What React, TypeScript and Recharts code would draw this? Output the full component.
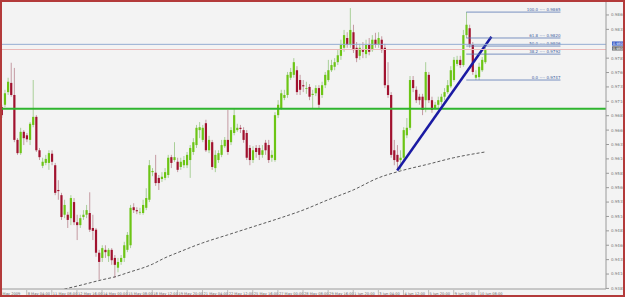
import React from 'react';
import { ComposedChart, Bar, Line, XAxis, YAxis, ReferenceLine } from 'recharts';

// H4 candles, 7 May - 10 Jun 2009
const opens = [
  0.9700, 0.9704, 0.9726, 0.9742, 0.9721, 0.9643, 0.9620, 0.9657, 0.9651, 0.9643,
  0.9669, 0.9683, 0.9625, 0.9598, 0.9603, 0.9603, 0.9619, 0.9599, 0.9556, 0.9547,
  0.9513, 0.9513, 0.9507, 0.9535, 0.9500, 0.9495, 0.9509, 0.9513, 0.9516, 0.9490,
  0.9487, 0.9447, 0.9438, 0.9452, 0.9441, 0.9452, 0.9438, 0.9421, 0.9431, 0.9438,
  0.9452, 0.9460, 0.9526, 0.9521, 0.9518, 0.9516, 0.9525, 0.9539, 0.9587, 0.9586,
  0.9577, 0.9575, 0.9577, 0.9582, 0.9613, 0.9608, 0.9605, 0.9596, 0.9599, 0.9599,
  0.9608, 0.9622, 0.9634, 0.9660, 0.9643, 0.9672, 0.9625, 0.9639, 0.9594, 0.9608,
  0.9617, 0.9632, 0.9643, 0.9639, 0.9655, 0.9660, 0.9664, 0.9660, 0.9655, 0.9629,
  0.9608, 0.9629, 0.9629, 0.9617, 0.9638, 0.9634, 0.9612, 0.9608, 0.9686, 0.9698,
  0.9716, 0.9721, 0.9751, 0.9756, 0.9764, 0.9747, 0.9738, 0.9733, 0.9735, 0.9721,
  0.9724, 0.9733, 0.9721, 0.9738, 0.9747, 0.9764, 0.9770, 0.9778, 0.9789, 0.9803,
  0.9820, 0.9808, 0.9830, 0.9803, 0.9789, 0.9799, 0.9792, 0.9808, 0.9799, 0.9817,
  0.9808, 0.9817, 0.9803, 0.9738, 0.9721, 0.9625, 0.9617, 0.9608, 0.9612, 0.9651,
  0.9664, 0.9747, 0.9730, 0.9718, 0.9718, 0.9712, 0.9756, 0.9712, 0.9698, 0.9704,
  0.9709, 0.9718, 0.9726, 0.9736, 0.9747, 0.9775, 0.9782, 0.9773, 0.9825, 0.9837,
  0.9808, 0.9751, 0.9752, 0.9764, 0.9778,
];
const highs = [
  0.9704, 0.9730, 0.9751, 0.9777, 0.9768, 0.9646, 0.9664, 0.9660, 0.9655, 0.9674,
  0.9747, 0.9686, 0.9629, 0.9612, 0.9617, 0.9625, 0.9625, 0.9603, 0.9573, 0.9551,
  0.9539, 0.9518, 0.9547, 0.9542, 0.9513, 0.9513, 0.9521, 0.9530, 0.9552, 0.9513,
  0.9490, 0.9452, 0.9460, 0.9460, 0.9455, 0.9455, 0.9443, 0.9438, 0.9443, 0.9466,
  0.9483, 0.9530, 0.9533, 0.9526, 0.9525, 0.9539, 0.9559, 0.9608, 0.9594, 0.9617,
  0.9582, 0.9587, 0.9594, 0.9617, 0.9617, 0.9639, 0.9612, 0.9612, 0.9615, 0.9622,
  0.9634, 0.9646, 0.9669, 0.9674, 0.9669, 0.9678, 0.9650, 0.9643, 0.9625, 0.9625,
  0.9643, 0.9648, 0.9695, 0.9665, 0.9698, 0.9671, 0.9669, 0.9665, 0.9660, 0.9634,
  0.9632, 0.9634, 0.9634, 0.9634, 0.9643, 0.9643, 0.9625, 0.9691, 0.9712, 0.9730,
  0.9730, 0.9761, 0.9768, 0.9785, 0.9771, 0.9756, 0.9747, 0.9744, 0.9740, 0.9730,
  0.9738, 0.9738, 0.9744, 0.9761, 0.9782, 0.9782, 0.9785, 0.9799, 0.9817, 0.9834,
  0.9830, 0.9872, 0.9843, 0.9813, 0.9810, 0.9813, 0.9817, 0.9820, 0.9825, 0.9829,
  0.9830, 0.9823, 0.9810, 0.9778, 0.9726, 0.9643, 0.9634, 0.9625, 0.9665, 0.9681,
  0.9754, 0.9754, 0.9736, 0.9723, 0.9723, 0.9778, 0.9761, 0.9718, 0.9709, 0.9718,
  0.9723, 0.9733, 0.9747, 0.9771, 0.9787, 0.9789, 0.9789, 0.9834, 0.9865, 0.9843,
  0.9813, 0.9764, 0.9777, 0.9787, 0.9804,
];
const lows = [
  0.9681, 0.9700, 0.9721, 0.9718, 0.9639, 0.9617, 0.9617, 0.9634, 0.9639, 0.9634,
  0.9665, 0.9622, 0.9608, 0.9594, 0.9599, 0.9591, 0.9599, 0.9547, 0.9539, 0.9504,
  0.9507, 0.9490, 0.9495, 0.9495, 0.9469, 0.9490, 0.9504, 0.9507, 0.9483, 0.9469,
  0.9440, 0.9400, 0.9431, 0.9438, 0.9431, 0.9426, 0.9403, 0.9413, 0.9426, 0.9431,
  0.9448, 0.9455, 0.9516, 0.9514, 0.9513, 0.9513, 0.9521, 0.9535, 0.9580, 0.9563,
  0.9556, 0.9570, 0.9573, 0.9577, 0.9594, 0.9605, 0.9587, 0.9591, 0.9594, 0.9594,
  0.9577, 0.9617, 0.9629, 0.9646, 0.9639, 0.9622, 0.9620, 0.9591, 0.9587, 0.9603,
  0.9613, 0.9629, 0.9617, 0.9634, 0.9651, 0.9657, 0.9655, 0.9638, 0.9608, 0.9599,
  0.9603, 0.9612, 0.9608, 0.9612, 0.9617, 0.9603, 0.9605, 0.9605, 0.9681, 0.9695,
  0.9712, 0.9716, 0.9747, 0.9751, 0.9721, 0.9721, 0.9726, 0.9723, 0.9712, 0.9698,
  0.9719, 0.9698, 0.9716, 0.9733, 0.9744, 0.9761, 0.9764, 0.9773, 0.9782, 0.9796,
  0.9803, 0.9803, 0.9794, 0.9778, 0.9782, 0.9785, 0.9785, 0.9790, 0.9796, 0.9803,
  0.9803, 0.9794, 0.9733, 0.9716, 0.9612, 0.9599, 0.9591, 0.9591, 0.9605, 0.9646,
  0.9660, 0.9726, 0.9707, 0.9704, 0.9686, 0.9691, 0.9707, 0.9690, 0.9695, 0.9698,
  0.9704, 0.9712, 0.9723, 0.9733, 0.9744, 0.9771, 0.9768, 0.9770, 0.9820, 0.9803,
  0.9756, 0.9747, 0.9747, 0.9761, 0.9775,
];
const closes = [
  0.9686, 0.9724, 0.9744, 0.9721, 0.9643, 0.9620, 0.9657, 0.9646, 0.9644, 0.9671,
  0.9683, 0.9625, 0.9613, 0.9605, 0.9610, 0.9620, 0.9605, 0.9551, 0.9554, 0.9509,
  0.9530, 0.9504, 0.9542, 0.9500, 0.9495, 0.9507, 0.9513, 0.9521, 0.9487, 0.9485,
  0.9447, 0.9431, 0.9455, 0.9448, 0.9452, 0.9434, 0.9426, 0.9431, 0.9438, 0.9460,
  0.9478, 0.9525, 0.9521, 0.9519, 0.9518, 0.9530, 0.9542, 0.9599, 0.9589, 0.9568,
  0.9568, 0.9579, 0.9587, 0.9612, 0.9603, 0.9613, 0.9591, 0.9605, 0.9608, 0.9617,
  0.9629, 0.9639, 0.9664, 0.9665, 0.9664, 0.9625, 0.9643, 0.9596, 0.9617, 0.9620,
  0.9634, 0.9643, 0.9622, 0.9660, 0.9686, 0.9664, 0.9662, 0.9643, 0.9612, 0.9608,
  0.9625, 0.9622, 0.9617, 0.9625, 0.9625, 0.9608, 0.9617, 0.9686, 0.9704, 0.9724,
  0.9721, 0.9756, 0.9761, 0.9778, 0.9726, 0.9730, 0.9736, 0.9733, 0.9718, 0.9723,
  0.9733, 0.9704, 0.9738, 0.9756, 0.9764, 0.9773, 0.9778, 0.9790, 0.9808, 0.9825,
  0.9808, 0.9834, 0.9799, 0.9785, 0.9803, 0.9796, 0.9808, 0.9796, 0.9817, 0.9808,
  0.9820, 0.9799, 0.9738, 0.9721, 0.9617, 0.9608, 0.9605, 0.9612, 0.9660, 0.9664,
  0.9747, 0.9733, 0.9712, 0.9712, 0.9695, 0.9761, 0.9712, 0.9695, 0.9704, 0.9712,
  0.9718, 0.9726, 0.9738, 0.9764, 0.9782, 0.9782, 0.9773, 0.9825, 0.9843, 0.9808,
  0.9761, 0.9756, 0.9770, 0.9782, 0.9799,
];

// empty slots to the right of the last bar (chart shift)
const slotCount = 193;

const timeTickIdx = [0, 8, 16, 24, 32, 40, 48, 56, 64, 72, 80, 88, 96, 104, 112, 120, 128, 136, 144, 152];
const timeTickText = [
  'May 2009', '8 May 04:00', '11 May 08:00', '12 May 16:00', '14 May 00:00', '15 May 08:00',
  '18 May 12:00', '19 May 20:00', '21 May 04:00', '22 May 12:00', '25 May 16:00', '27 May 00:00',
  '28 May 08:00', '29 May 16:00', '1 Jun 20:00', '3 Jun 04:00', '4 Jun 12:00', '5 Jun 20:00',
  '9 Jun 00:00', '10 Jun 08:00',
];

// 0.9810 sits under the price boxes, so it is not shown
const priceTicks = [
  0.9385, 0.9410, 0.9435, 0.9460, 0.9485, 0.9510, 0.9535, 0.9560, 0.9585, 0.9610, 0.9635,
  0.9660, 0.9685, 0.9710, 0.9735, 0.9760, 0.9785, 0.9835, 0.9860, 0.9885,
];

// moving average (dashed), read at a few bars
const maIdx = [20, 24, 32, 36, 40, 48, 52, 56, 64, 72, 80, 88, 96, 104, 112, 120, 127, 136, 144, 154];
const maVals = [
  0.9384, 0.9389, 0.9400, 0.9405, 0.9412, 0.9427, 0.9438, 0.9447, 0.9464, 0.9478,
  0.9492, 0.9506, 0.9521, 0.9539, 0.9556, 0.9577, 0.9589, 0.9601, 0.9612, 0.9622,
];

const trendIdx = [126, 156];
const trendVals = [0.9590, 0.9822];

const fibNames = ['100.0', '61.8', '50.0', '38.2', '0.0'];
const fibPrices = [0.9865, 0.9820, 0.9806, 0.9792, 0.9747];
const fibFrom = 148;
const fibTo = 178;

const supportLevel = 0.9697;
const markLevels = [0.9809, 0.9800];

const rows = Array.from({ length: slotCount }, (_, i) => {
  const has = i < opens.length;
  const m = maIdx.indexOf(i);
  const t = trendIdx.indexOf(i);
  return {
    i,
    open: has ? opens[i] : null,
    high: has ? highs[i] : null,
    low: has ? lows[i] : null,
    close: has ? closes[i] : null,
    range: has ? [lows[i], highs[i]] : null,
    ma: m >= 0 ? maVals[m] : null,
    trend: t >= 0 ? trendVals[t] : null,
  };
});

const Candle = (props: any) => {
  const { x, y, width, height, payload } = props;
  if (!payload || payload.open == null || y == null) return null;
  const { open, close, high, low } = payload;
  const top = Math.min(y, y + height);
  const bot = Math.max(y, y + height);
  const k = (bot - top) / (high - low || 1e-9);
  const yO = top + (high - open) * k;
  const yC = top + (high - close) * k;
  const bull = close >= open;
  const cx = x + width / 2;
  return (
    <g>
      <line x1={cx} x2={cx} y1={top} y2={bot} stroke={bull ? '#a9cf98' : '#c49aa2'} strokeWidth={1} />
      <rect
        x={cx - 1.1}
        y={Math.min(yO, yC)}
        width={2.2}
        height={Math.max(Math.abs(yO - yC), 0.8)}
        fill={bull ? '#6cc515' : '#a1122f'}
      />
    </g>
  );
};

const TimeTick = (props: any) => {
  const { x, payload } = props;
  const n = timeTickIdx.indexOf(payload.value);
  if (n < 0) return null;
  return (
    <g>
      <line x1={x} x2={x} y1={290} y2={295} stroke="#999" strokeWidth={0.6} />
      <text x={x + 1} y={294.5} fontSize={3.6} fill="#666" fontFamily="DejaVu Sans">
        {timeTickText[n]}
      </text>
    </g>
  );
};

const fibLabel = (text: string) => (p: any) => {
  const vb = p.viewBox;
  return (
    <text x={vb.x + vb.width} y={vb.y - 1} textAnchor="end" fontSize={4} fill="#3f5f9f" fontFamily="DejaVu Sans">
      {text}
    </text>
  );
};

const markLabel = (text: string, fill: string, dy: number) => (p: any) => {
  const vb = p.viewBox;
  const bx = vb.x + vb.width + 6;
  return (
    <g>
      <rect x={bx} y={vb.y + dy} width={12.5} height={4.2} fill={fill} />
      <text x={bx + 0.8} y={vb.y + dy + 3.3} fontSize={3.5} fill="#fff" fontFamily="DejaVu Sans">
        {text}
      </text>
    </g>
  );
};

export default function App() {
  return (
    <div style={{ position: 'relative', width: 625, height: 297, background: '#f3f3f3' }}>
      <style>{'body{margin:0}'}</style>
      <ComposedChart width={625} height={297} data={rows} margin={{ top: 0, right: 0, left: 0, bottom: 0 }}>
        <XAxis
          dataKey="i"
          type="category"
          ticks={timeTickIdx}
          interval={0}
          tick={<TimeTick />}
          tickLine={false}
          axisLine={{ stroke: '#9a9a9a' }}
          height={8}
        />
        <YAxis
          orientation="right"
          width={19}
          domain={[0.9384, 0.9886]}
          allowDataOverflow
          ticks={priceTicks}
          interval={0}
          tickFormatter={(v: number) => v.toFixed(4)}
          tick={{ fontSize: 4, fill: '#777', fontFamily: 'DejaVu Sans' }}
          tickSize={3}
          tickMargin={2}
          axisLine={{ stroke: '#9a9a9a' }}
          tickLine={{ stroke: '#9a9a9a' }}
        />
        <ReferenceLine y={supportLevel} stroke="#2fb52f" strokeWidth={2} />
        <Bar dataKey="range" shape={<Candle />} isAnimationActive={false} />
        <Line
          dataKey="ma"
          type="monotone"
          connectNulls
          dot={false}
          stroke="#333"
          strokeWidth={0.8}
          strokeDasharray="3 2"
          isAnimationActive={false}
        />
        <Line
          dataKey="trend"
          type="linear"
          connectNulls
          dot={false}
          stroke="#1a1aa3"
          strokeWidth={2.5}
          isAnimationActive={false}
        />
        {fibPrices.map((p, k) => (
          <ReferenceLine
            key={fibNames[k]}
            segment={[{ x: fibFrom, y: p }, { x: fibTo, y: p }]}
            stroke="#5a78b4"
            strokeWidth={0.8}
            label={fibLabel(`${fibNames[k]} ---- ${p.toFixed(4)}`)}
          />
        ))}
        <ReferenceLine
          y={markLevels[1]}
          stroke="#eab8b8"
          strokeWidth={1}
          label={markLabel(markLevels[1].toFixed(4), '#6e6e6e', -3.2)}
        />
        <ReferenceLine
          y={markLevels[0]}
          stroke="#95acd2"
          strokeWidth={1}
          label={markLabel(markLevels[0].toFixed(4), '#3f5fc8', -2.9)}
        />
      </ComposedChart>
      <div
        style={{
          position: 'absolute',
          inset: 0,
          border: '2px solid #b33a3a',
          boxSizing: 'border-box',
          pointerEvents: 'none',
        }}
      />
    </div>
  );
}
